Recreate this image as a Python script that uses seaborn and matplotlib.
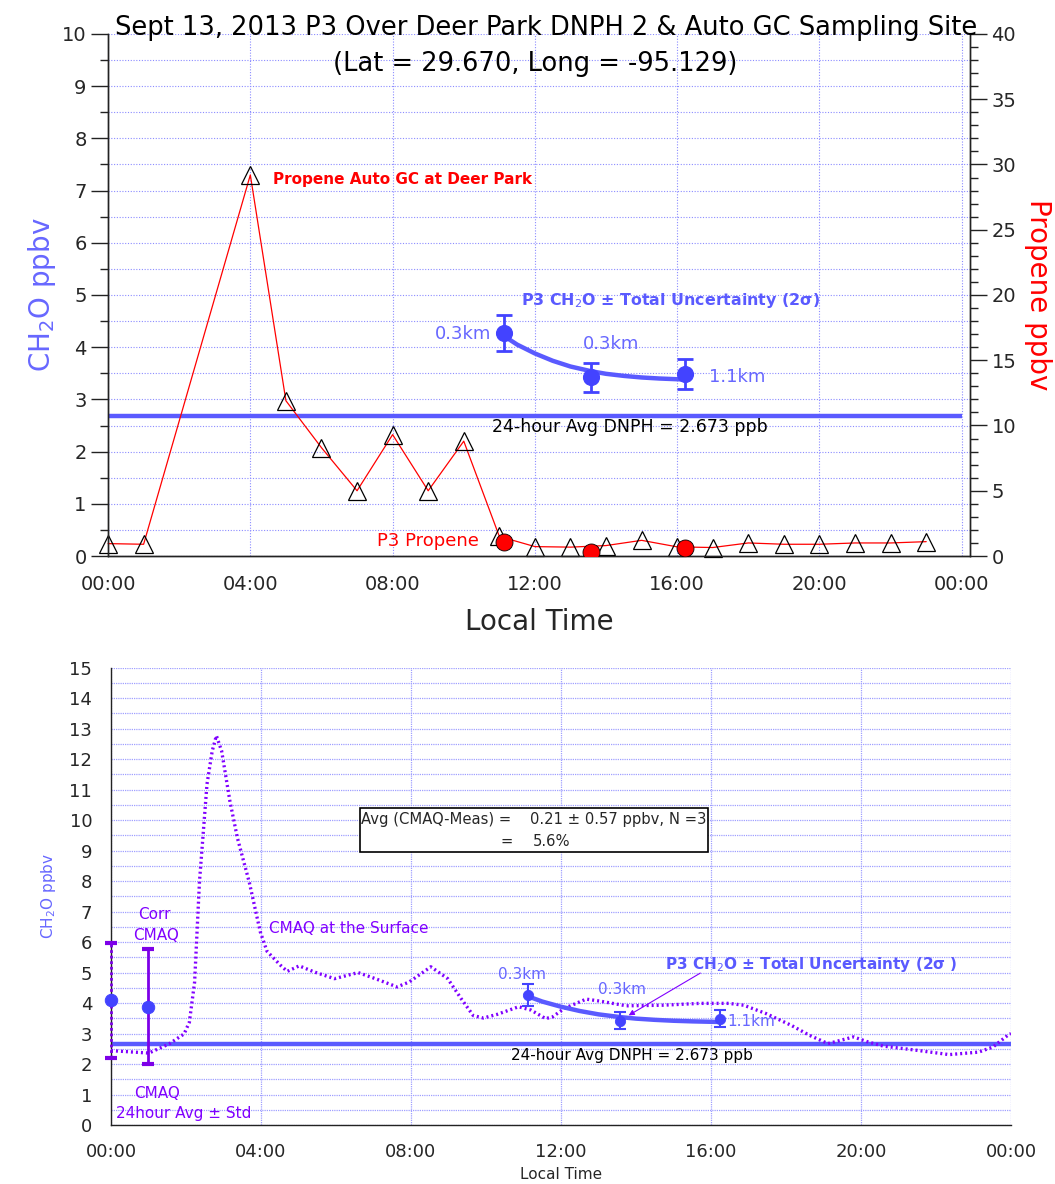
import matplotlib
matplotlib.use('Agg')
import matplotlib.pyplot as plt
import seaborn as sns
from matplotlib.ticker import MultipleLocator, FixedLocator
from matplotlib.patches import Rectangle

# ---- data (hours local time) ----
gc_hours = [0, 1, 4, 5, 6, 7, 8, 9, 10, 11, 12, 13, 14, 15, 16, 17, 18, 19, 20, 21, 22, 23]
gc_propene = [0.95, 0.9, 29.2, 11.9, 8.3, 5.0, 9.3, 5.0, 8.8, 1.5, 0.72, 0.68, 0.8, 1.2,
              0.7, 0.65, 1.0, 0.9, 0.9, 1.0, 1.0, 1.1]

p3_hours = [11.12, 13.58, 16.23]
p3_propene = [1.1, 0.3, 0.65]
p3_ch2o = [4.27, 3.42, 3.49]
p3_err = [0.35, 0.28, 0.29]
p3_alt = ['0.3km', '0.3km', '1.1km']

fit_hours = [11.12, 11.5, 12.0, 12.5, 13.0, 13.58, 14.0, 14.5, 15.0, 15.5, 16.23]
fit_ch2o = [4.22, 4.05, 3.88, 3.74, 3.63, 3.54, 3.49, 3.45, 3.42, 3.40, 3.38]

dnph_avg = 2.673

cmaq_hours = [0.0, 1.01, 1.55, 1.95, 2.09, 2.23, 2.36, 2.45, 2.56, 2.70, 2.81, 2.95, 3.17,
              3.37, 3.69, 3.98, 4.16, 4.52, 4.70, 5.02, 5.42, 5.96, 6.59, 7.05, 7.63, 7.95,
              8.53, 8.98, 9.34, 9.66, 9.93, 10.30, 10.87, 11.2, 11.59, 11.78, 12.08, 12.67,
              13.06, 13.74, 14.72, 15.70, 16.48, 16.87, 17.46, 18.14, 18.63, 19.12, 19.80,
              20.20, 20.59, 21.56, 22.35, 23.13, 23.52, 23.91, 24.0]
cmaq_ch2o = [2.44, 2.36, 2.66, 2.99, 3.37, 4.69, 7.99, 9.42, 11.18, 12.27, 12.77, 12.27, 10.63,
             9.42, 7.95, 6.34, 5.7, 5.24, 5.04, 5.22, 5.02, 4.80, 5.0, 4.8, 4.53, 4.69,
             5.19, 4.80, 4.14, 3.59, 3.51, 3.63, 3.88, 3.77, 3.49, 3.55, 3.82, 4.13,
             4.06, 3.91, 3.93, 3.99, 3.99, 3.93, 3.66, 3.27, 2.94, 2.67, 2.89,
             2.72, 2.59, 2.44, 2.31, 2.39, 2.56, 2.94, 3.0]

cmaq_avg_hours = [0.0, 1.0]
cmaq_avg = [4.09, 3.88]
cmaq_lo = [2.20, 2.0]
cmaq_hi = [5.98, 5.77]

tick_hours = [0, 4, 8, 12, 16, 20, 24]
tick_labels = ['00:00', '04:00', '08:00', '12:00', '16:00', '20:00', '00:00']

# ---- style ----
sns.set_style('white')
plt.rcParams['font.family'] = ['DejaVu Sans']
BLUE_PT = '#4343ff'
BLUE_LN = '#5a5aff'
BLUE_TX = '#6767ff'
PURPLE = '#8000ff'
GRID = '#8c8cff'

fig = plt.figure(figsize=(10.55, 11.84), dpi=100)

# ================= top panel =================
ax = fig.add_axes([0.1024, 0.5304, 0.817, 0.4409])
ax2 = ax.twinx()
ax.set_xlim(0, 24.23)
ax.set_ylim(0, 10)
ax2.set_ylim(0, 40)

ax.xaxis.set_major_locator(FixedLocator(tick_hours))
ax.set_xticklabels(tick_labels)
ax.xaxis.set_minor_locator(MultipleLocator(2))
ax.yaxis.set_major_locator(MultipleLocator(1))
ax.yaxis.set_minor_locator(MultipleLocator(0.5))
ax2.yaxis.set_major_locator(MultipleLocator(5))
ax2.yaxis.set_minor_locator(MultipleLocator(1))

ax.grid(True, which='major', axis='x', color=GRID, linestyle=(0, (1, 1.5)), lw=0.8)
ax.grid(True, which='both', axis='y', color=GRID, linestyle=(0, (1, 1.5)), lw=0.8)
ax.set_axisbelow(True)

for a in (ax, ax2):
    a.spines['top'].set_visible(False)
    for s in a.spines.values():
        s.set_color('#222222')
        s.set_linewidth(1.0)
ax.tick_params(axis='both', which='major', direction='out', length=12, width=1,
               labelsize=14, color='#222222')
ax.tick_params(axis='both', which='minor', direction='out', length=6, width=1, color='#222222')
ax.tick_params(axis='x', pad=2)
ax2.tick_params(axis='y', which='major', direction='out', length=12, width=1, labelsize=14,
                color='#222222')
ax2.tick_params(axis='y', which='minor', direction='out', length=6, width=1, color='#222222')

# CH2O (left axis)
ax.hlines(dnph_avg, 0, 24, color=BLUE_LN, lw=3.2, zorder=2)
sns.lineplot(x=fit_hours, y=fit_ch2o, ax=ax, color=BLUE_LN, lw=3.2, sort=False,
             estimator=None, zorder=3)
ax.errorbar(p3_hours, p3_ch2o, yerr=p3_err, fmt='none', ecolor=BLUE_PT, elinewidth=2,
            capsize=6, capthick=2, zorder=4)
sns.scatterplot(x=p3_hours, y=p3_ch2o, ax=ax, color=BLUE_PT, s=130, edgecolor=BLUE_PT,
                zorder=5)

# propene (right axis)
sns.lineplot(x=gc_hours, y=gc_propene, ax=ax2, color='red', lw=0.9, sort=False, estimator=None,
             marker='^', markersize=13, markerfacecolor='none', markeredgecolor='black',
             markeredgewidth=0.9, clip_on=False)
sns.scatterplot(x=p3_hours, y=p3_propene, ax=ax2, color='red', s=150, edgecolor='black',
                linewidth=0.6, zorder=6)

ax.set_xlabel('Local Time', fontsize=20, labelpad=10)
ax.set_ylabel('CH$_2$O ppbv', fontsize=20, color=BLUE_TX, labelpad=3)
ax2.set_ylabel('Propene ppbv', fontsize=20, color='red', rotation=-90, labelpad=26)
ax2.set_xlim(0, 24.23)

ax.text(4.64, 7.22, 'Propene Auto GC at Deer Park', color='red', fontsize=11,
        fontweight='bold', va='center', ha='left')
ax.text(10.43, 0.29, 'P3 Propene', color='red', fontsize=13, va='center', ha='right')
ax.text(11.62, 4.89, 'P3 CH$_2$O \u00b1 Total Uncertainty (2\u03c3)', color=BLUE_LN,
        fontsize=11.4, fontweight='bold', va='center', ha='left')
ax.text(10.76, 4.26, p3_alt[0], color=BLUE_TX, fontsize=13, va='center', ha='right')
ax.text(14.13, 4.06, p3_alt[1], color=BLUE_TX, fontsize=13, va='center', ha='center')
ax.text(16.9, 3.43, p3_alt[2], color=BLUE_TX, fontsize=13, va='center', ha='left')
ax.text(10.8, 2.48, '24-hour Avg DNPH = 2.673 ppb', color='black', fontsize=12.5,
        va='center', ha='left')

fig.text(546 / 1055, 1 - 28 / 1184, 'Sept 13, 2013 P3 Over Deer Park DNPH 2 & Auto GC Sampling Site',
         fontsize=18.5, ha='center', va='center', color='black')
fig.text(535 / 1055, 1 - 64 / 1184, '(Lat = 29.670, Long = -95.129)',
         fontsize=18.5, ha='center', va='center', color='black')

# ================= bottom panel =================
bx = fig.add_axes([0.1052, 0.0498, 0.8531, 0.3863])
bx.set_xlim(0, 24)
bx.set_ylim(0, 15)
bx.xaxis.set_major_locator(FixedLocator(tick_hours))
bx.set_xticklabels(tick_labels)
bx.xaxis.set_minor_locator(MultipleLocator(2))
bx.yaxis.set_major_locator(MultipleLocator(1))
bx.yaxis.set_minor_locator(MultipleLocator(0.5))
bx.grid(True, which='major', axis='x', color='#a0a0ff', linestyle=(0, (1, 0.8)), lw=0.9)
bx.grid(True, which='both', axis='y', color='#a0a0ff', linestyle=(0, (1, 0.8)), lw=0.9)
bx.set_axisbelow(True)
bx.spines['top'].set_visible(False)
bx.spines['right'].set_visible(False)
for s in ('left', 'bottom'):
    bx.spines[s].set_color('#222222')
    bx.spines[s].set_linewidth(1.0)
bx.tick_params(axis='both', which='major', direction='out', length=10, width=1,
               labelsize=13, color='#222222')
bx.tick_params(axis='both', which='minor', direction='out', length=5, width=1, color='#222222')
bx.tick_params(axis='x', pad=3)

bx.axhline(dnph_avg, color=BLUE_LN, lw=3.2, zorder=2)
sns.lineplot(x=cmaq_hours, y=cmaq_ch2o, ax=bx, color=PURPLE, lw=2.4, sort=False,
             estimator=None, linestyle=(0, (0.6, 0.9)), zorder=3)
sns.lineplot(x=fit_hours, y=fit_ch2o, ax=bx, color=BLUE_LN, lw=3.2, sort=False,
             estimator=None, zorder=4)
bx.errorbar(p3_hours, p3_ch2o, yerr=p3_err, fmt='none', ecolor=BLUE_PT, elinewidth=1.5,
            capsize=4, capthick=1.5, zorder=5)
sns.scatterplot(x=p3_hours, y=p3_ch2o, ax=bx, color=BLUE_PT, s=55, edgecolor=BLUE_PT, zorder=6)

# CMAQ 24h avg +- std (dotted) and corrected CMAQ (solid)
e0 = bx.errorbar([cmaq_avg_hours[0]], [cmaq_avg[0]],
                 yerr=[[cmaq_avg[0] - cmaq_lo[0]], [cmaq_hi[0] - cmaq_avg[0]]],
                 fmt='none', ecolor='#7d00e8', elinewidth=2, capsize=4, capthick=3, zorder=5,
                 clip_on=False)
e0[2][0].set_linestyle((0, (1, 1)))
bx.errorbar([cmaq_avg_hours[1]], [cmaq_avg[1]],
            yerr=[[cmaq_avg[1] - cmaq_lo[1]], [cmaq_hi[1] - cmaq_avg[1]]],
            fmt='none', ecolor='#7d00e8', elinewidth=2, capsize=4.5, capthick=3, zorder=5)
sns.scatterplot(x=cmaq_avg_hours, y=cmaq_avg, ax=bx, color=BLUE_PT, s=80, edgecolor=BLUE_PT,
                zorder=7, clip_on=False)

bx.text(1.16, 6.92, 'Corr', color=PURPLE, fontsize=11, ha='center', va='center')
bx.text(1.21, 6.23, 'CMAQ', color=PURPLE, fontsize=11, ha='center', va='center')
bx.text(1.23, 1.04, 'CMAQ', color=PURPLE, fontsize=11, ha='center', va='center')
bx.text(0.14, 0.38, '24hour Avg \u00b1 Std', color=PURPLE, fontsize=11, ha='left', va='center')
bx.text(4.21, 6.45, 'CMAQ at the Surface', color=PURPLE, fontsize=11, ha='left', va='center')

bx.text(10.95, 4.94, p3_alt[0], color=BLUE_TX, fontsize=11, ha='center', va='center')
bx.text(13.64, 4.43, p3_alt[1], color=BLUE_TX, fontsize=11, ha='center', va='center')
bx.text(16.43, 3.40, p3_alt[2], color=BLUE_TX, fontsize=11, ha='left', va='center')
bx.text(14.77, 5.25, 'P3 CH$_2$O \u00b1 Total Uncertainty (2\u03c3 )', color=BLUE_LN,
        fontsize=11, fontweight='bold', ha='left', va='center')
bx.annotate('', xy=(13.74, 3.55), xytext=(15.78, 5.03),
            arrowprops=dict(arrowstyle='-|>', color=PURPLE, lw=0.8, mutation_scale=8))
bx.text(10.66, 2.28, '24-hour Avg DNPH = 2.673 ppb', color='black', fontsize=11,
        ha='left', va='center')

bx.add_patch(Rectangle((6.64, 8.96), 9.28, 1.44, facecolor='white', edgecolor='black',
                       lw=1.2, zorder=8))
bx.text(6.67, 10.01, 'Avg (CMAQ-Meas) =', fontsize=10.6, ha='left', va='center', zorder=9)
bx.text(11.17, 10.01, '0.21 \u00b1 0.57 ppbv, N =3', fontsize=10.6, ha='left', va='center', zorder=9)
bx.text(10.56, 9.29, '=', fontsize=10.6, ha='center', va='center', zorder=9)
bx.text(11.25, 9.29, '5.6%', fontsize=10.6, ha='left', va='center', zorder=9)

bx.set_xlabel('Local Time', fontsize=11, labelpad=4)
bx.set_ylabel('CH$_2$O ppbv', fontsize=11, color=BLUE_TX, labelpad=8)

fig.savefig('out.png', dpi=100)
